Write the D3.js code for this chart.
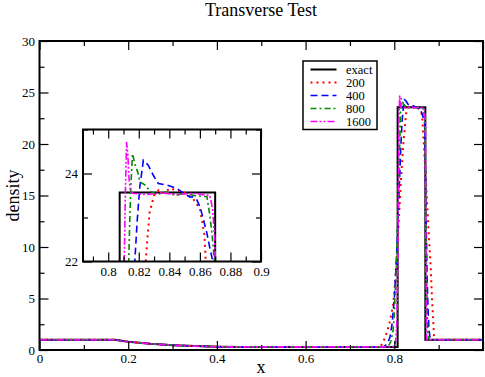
<!DOCTYPE html>
<html>
<head>
<meta charset="utf-8">
<script src="https://cdn.jsdelivr.net/npm/d3@7"></script>
<style>
  body { margin: 0; background: #fff; }
  svg { display: block; font-family: "Liberation Serif", serif; }
  svg text { font-family: "Liberation Serif", serif; }
</style>
</head>
<body>
<svg id="chart" width="485" height="377"></svg>
<script>
// smooth part of the profile (left state + rarefaction), every run sits on it
let baseX = [0, 0.17, 0.2, 0.25, 0.3, 0.35, 0.4, 0.45, 0.76];
let baseY = [1.0, 1.0, 0.8, 0.6, 0.47, 0.38, 0.32, 0.3, 0.3];

// exact solution around the dense slab
let exactX = [0.8075, 0.8075, 0.870, 0.870, 1.0];
let exactY = [0.3, 23.57, 23.57, 1.0, 1.0];

// numerical runs
let n200X = [0.77, 0.777, 0.784, 0.789, 0.793, 0.797, 0.80, 0.805, 0.81, 0.815, 0.82, 0.8245, 0.827, 0.83, 0.833, 0.837, 0.84, 0.845, 0.85, 0.855, 0.86, 0.863, 0.867, 0.8707, 0.8745, 0.878, 0.882, 0.885, 0.888, 0.8895, 0.895, 1.0];
let n200Y = [0.4, 1.0, 1.8, 2.6, 3.4, 4.4, 5.5, 8.5, 12.5, 16.5, 19.8, 22.0, 23.1, 23.5, 23.62, 23.55, 23.66, 23.62, 23.56, 23.45, 23.2, 22.6, 19.7, 16.8, 13.9, 11.0, 8.1, 5.0, 2.6, 1.2, 1.0, 1.0];

let n400X = [0.775, 0.78, 0.785, 0.79, 0.795, 0.80, 0.805, 0.81, 0.815, 0.8174, 0.819, 0.8207, 0.823, 0.8262, 0.8295, 0.8328, 0.8383, 0.8449, 0.8492, 0.8536, 0.855, 0.858, 0.8602, 0.8624, 0.8646, 0.8668, 0.8685, 0.87, 0.872, 0.874, 0.876, 0.878, 0.88, 0.883, 1.0];
let n400Y = [0.3, 0.45, 0.7, 1.2, 2.5, 5, 9, 14.5, 20, 22, 22.94, 23.7, 24.3, 24.19, 23.96, 23.77, 23.74, 23.66, 23.56, 23.46, 23.47, 23.4, 23.23, 22.94, 22.64, 22.26, 22.0, 18, 12, 7, 4, 2.2, 1.3, 1.0, 1.0];

let n800X = [0.782, 0.787, 0.792, 0.797, 0.80, 0.805, 0.809, 0.8135, 0.8141, 0.8148, 0.8159, 0.8174, 0.8196, 0.8207, 0.824, 0.8273, 0.832, 0.838, 0.844, 0.85, 0.856, 0.8646, 0.8663, 0.8679, 0.8694, 0.871, 0.8725, 0.874, 0.8755, 0.877, 0.88, 1.0];
let n800Y = [0.3, 0.4, 0.8, 1.8, 3.5, 8.5, 15, 22.1, 22.94, 23.7, 24.45, 24.22, 24.0, 23.81, 23.74, 23.6, 23.52, 23.58, 23.5, 23.56, 23.5, 23.47, 23.1, 22.64, 22.04, 16, 9, 4, 1.8, 1.1, 1.0, 1.0];

let n1600X = [0.795, 0.80, 0.803, 0.806, 0.808, 0.8095, 0.8105, 0.8112, 0.812, 0.8128, 0.8136, 0.8145, 0.816, 0.825, 0.835, 0.845, 0.855, 0.8665, 0.8683, 0.8695, 0.8702, 0.8708, 0.8715, 0.8722, 0.873, 1.0];
let n1600Y = [0.3, 0.4, 0.8, 3, 9, 17, 22, 23.5, 24.72, 24.45, 23.9, 23.6, 23.55, 23.52, 23.56, 23.52, 23.55, 23.5, 23.2, 22.6, 22.0, 14, 6, 2, 1.0, 1.0];

let legendLabels = ['exact', '200', '400', '800', '1600'];

// tick values
let xMajor = [0, 0.2, 0.4, 0.6, 0.8, 1.0];
let xMinor = [0.1, 0.3, 0.5, 0.7, 0.9];
let yMajor = [0, 5, 10, 15, 20, 25, 30];
let yMinor = [2.5, 7.5, 12.5, 17.5, 22.5, 27.5];
let insetXMajor = [0.8, 0.82, 0.84, 0.86, 0.88, 0.9];
let insetXMinor = [0.79, 0.81, 0.83, 0.85, 0.87, 0.89];
let insetYMajor = [22, 24];
let insetYMinor = [23, 25];

let serif = '"Liberation Serif", serif';

// line styles for each run
let styles = [
  {color: '#000000', dash: null, width: 2},
  {color: '#ff0000', dash: '2,4', width: 2},
  {color: '#0000ff', dash: '7,4', width: 1.6},
  {color: '#008b00', dash: '6,3,2,3', width: 1.6},
  {color: '#ff00ff', dash: '7,2,2,2,2,2', width: 1.6}
];

function makeSeries(xs, ys) {
  return xs.map((d, i) => [d, ys[i]]);
}

let runs = [
  makeSeries(baseX.concat(exactX), baseY.concat(exactY)),
  makeSeries(baseX.concat(n200X), baseY.concat(n200Y)),
  makeSeries(baseX.concat(n400X), baseY.concat(n400Y)),
  makeSeries(baseX.concat(n800X), baseY.concat(n800Y)),
  makeSeries(baseX.concat(n1600X), baseY.concat(n1600Y))
];

let svg = d3.select('#chart');

// main plot box
let box = {left: 39.5, right: 483, top: 41, bottom: 350};
let x = d3.scaleLinear().domain([0, 1]).range([box.left, box.right]);
let y = d3.scaleLinear().domain([0, 30]).range([box.bottom, box.top]);

// inset box
let ibox = {left: 83, right: 261, top: 129.5, bottom: 261.5};
let ix = d3.scaleLinear().domain([0.7835, 0.9]).range([ibox.left, ibox.right]);
let iy = d3.scaleLinear().domain([22, 25]).range([ibox.bottom, ibox.top]);

let defs = svg.append('defs');
defs.append('clipPath').attr('id', 'clipMain')
  .append('rect')
  .attr('x', box.left).attr('y', box.top)
  .attr('width', box.right - box.left).attr('height', box.bottom - box.top);
defs.append('clipPath').attr('id', 'clipInset')
  .append('rect')
  .attr('x', ibox.left).attr('y', ibox.top)
  .attr('width', ibox.right - ibox.left).attr('height', ibox.bottom - ibox.top);

// draws the curves of all runs with given scales
function drawRuns(g, sx, sy) {
  let line = d3.line().x(d => sx(d[0])).y(d => sy(d[1]));
  runs.forEach((r, i) => {
    g.append('path')
      .attr('d', line(r))
      .attr('fill', 'none')
      .attr('stroke', styles[i].color)
      .attr('stroke-width', styles[i].width)
      .attr('stroke-dasharray', styles[i].dash);
  });
}

// inward ticks on all four sides of a box
function drawFrameAxes(g, sx, sy, b, opts) {
  let fmt = d => d;
  let major = opts.major, minor = opts.minor;

  g.append('g').attr('transform', `translate(0,${b.bottom})`)
    .call(d3.axisBottom(sx).tickValues(opts.xMajor).tickSize(-major).tickPadding(opts.xPad)
      .tickFormat(d => opts.xLabels.includes(d) ? fmt(d) : ''));
  g.append('g').attr('transform', `translate(0,${b.bottom})`)
    .call(d3.axisBottom(sx).tickValues(opts.xMinor).tickSize(-minor).tickFormat(''));
  g.append('g').attr('transform', `translate(0,${b.top})`)
    .call(d3.axisTop(sx).tickValues(opts.xMajor).tickSize(-major).tickFormat(''));
  g.append('g').attr('transform', `translate(0,${b.top})`)
    .call(d3.axisTop(sx).tickValues(opts.xMinor).tickSize(-minor).tickFormat(''));

  g.append('g').attr('transform', `translate(${b.left},0)`)
    .call(d3.axisLeft(sy).tickValues(opts.yMajor).tickSize(-major).tickPadding(opts.yPad).tickFormat(fmt));
  g.append('g').attr('transform', `translate(${b.left},0)`)
    .call(d3.axisLeft(sy).tickValues(opts.yMinor).tickSize(-minor).tickFormat(''));
  g.append('g').attr('transform', `translate(${b.right},0)`)
    .call(d3.axisRight(sy).tickValues(opts.yMajor).tickSize(-major).tickFormat(''));
  g.append('g').attr('transform', `translate(${b.right},0)`)
    .call(d3.axisRight(sy).tickValues(opts.yMinor).tickSize(-minor).tickFormat(''));

  g.selectAll('.domain').remove();
  g.selectAll('g').attr('font-family', serif).attr('font-size', opts.fontSize);
  g.selectAll('.tick line').attr('stroke', '#000').attr('stroke-width', 1.2);
  g.selectAll('.tick text')
    .attr('fill', '#000')
    .attr('font-family', serif)
    .attr('font-size', opts.fontSize);

  g.append('rect')
    .attr('x', b.left).attr('y', b.top)
    .attr('width', b.right - b.left).attr('height', b.bottom - b.top)
    .attr('fill', 'none').attr('stroke', '#000').attr('stroke-width', 2);
}

// main curves
drawRuns(svg.append('g').attr('clip-path', 'url(#clipMain)'), x, y);

drawFrameAxes(svg.append('g'), x, y, box, {
  major: 9, minor: 5,
  xMajor: xMajor, xMinor: xMinor, yMajor: yMajor, yMinor: yMinor,
  xLabels: [0, 0.2, 0.4, 0.6, 0.8],
  xPad: 4, yPad: 4.5, fontSize: 13
});

// inset
let inset = svg.append('g');
inset.append('rect')
  .attr('x', ibox.left).attr('y', ibox.top)
  .attr('width', ibox.right - ibox.left).attr('height', ibox.bottom - ibox.top)
  .attr('fill', '#fff');
drawRuns(inset.append('g').attr('clip-path', 'url(#clipInset)'), ix, iy);
drawFrameAxes(inset.append('g'), ix, iy, ibox, {
  major: 9, minor: 5,
  xMajor: insetXMajor, xMinor: insetXMinor, yMajor: insetYMajor, yMinor: insetYMinor,
  xLabels: insetXMajor,
  xPad: 5, yPad: 5, fontSize: 13
});

// legend
let leg = svg.append('g');
leg.append('rect')
  .attr('x', 303).attr('y', 61)
  .attr('width', 74).attr('height', 68.5)
  .attr('fill', '#fff').attr('stroke', '#000').attr('stroke-width', 1.5);
legendLabels.forEach((lab, i) => {
  let ly = 69.5 + i * 13;
  leg.append('line')
    .attr('x1', 310.5).attr('x2', 336.5).attr('y1', ly).attr('y2', ly)
    .attr('stroke', styles[i].color)
    .attr('stroke-width', styles[i].width)
    .attr('stroke-dasharray', styles[i].dash);
  leg.append('text')
    .attr('x', 346).attr('y', ly).attr('dy', '0.35em')
    .attr('font-size', 12.5)
    .text(lab);
});

// titles
svg.append('text')
  .attr('x', 261).attr('y', 16)
  .attr('text-anchor', 'middle')
  .attr('font-size', 18)
  .text('Transverse Test');

svg.append('text')
  .attr('x', 261).attr('y', 373)
  .attr('text-anchor', 'middle')
  .attr('font-size', 18)
  .text('x');

svg.append('text')
  .attr('transform', `translate(19,${(box.top + box.bottom) / 2}) rotate(-90)`)
  .attr('text-anchor', 'middle')
  .attr('font-size', 18)
  .text('density');
</script>
</body>
</html>
